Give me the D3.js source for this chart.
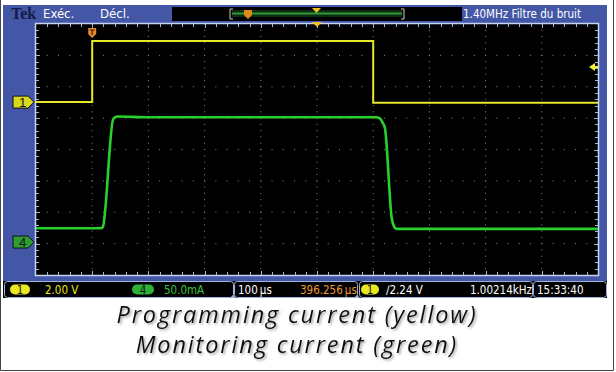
<!DOCTYPE html>
<html>
<head>
<meta charset="utf-8">
<script src="https://cdn.jsdelivr.net/npm/d3@7"></script>
<style>
  body { margin: 0; background: #fff; }
  svg { display: block; }
  .hdr { font-family: "Liberation Sans Narrow", "DejaVu Sans Condensed", sans-serif; font-stretch: condensed; font-size: 13px; }
  .stat { font-family: "Liberation Sans Narrow", "DejaVu Sans Condensed", sans-serif; font-stretch: condensed; font-size: 11.5px; }
  .caption { font-family: "Open Sans", Lato, sans-serif; font-style: italic; font-size: 23.5px; fill: #111; }
</style>
</head>
<body>
<svg id="scope"></svg>
<script>
// timebase and channel settings
const timePerDiv = 100;      // µs
const timeStart = -100;      // µs at left graticule edge (trigger at 1st division)
const ch1VoltsPerDiv = 2.0;
const ch4AmpsPerDiv = 50.0;  // mA
const ch1Position = 1.51;    // divisions above centre
const ch4Position = -2.95;
const triggerLevel = 2.24;   // V

// yellow: programming current (channel 1), volts
const yellowTime = [-100, 0, 0, 500, 500, 900];
const yellowVolts = [0, 0, 3.89, 3.89, -0.04, -0.04];

// green: monitoring current (channel 4), mA
const greenTime = [-100, 16, 19, 37, 41, 45, 100, 300, 505, 512, 517, 521, 533, 537, 541, 600, 900];
const greenMilliamps = [22, 22, 24, 195, 199, 200, 199, 199, 199, 197, 190, 181, 38, 25, 21, 21, 21];

const captionLines = ["Programming current (yellow)", "Monitoring current (green)"];

const width = 616, height = 372;
const plot = { left: 36, top: 24, right: 598, bottom: 275 };

const svg = d3.select("#scope").attr("width", width).attr("height", height);

const x = d3.scaleLinear()
  .domain([timeStart, timeStart + 10 * timePerDiv])
  .range([plot.left, plot.right]);
const yDiv = d3.scaleLinear().domain([-4, 4]).range([plot.bottom, plot.top]);
const xDiv = d3.scaleLinear().domain([0, 10]).range([plot.left, plot.right]);

const defs = svg.append("defs");
const shadow = defs.append("filter").attr("id", "shadow")
  .attr("x", -0.05).attr("y", -0.2).attr("width", 1.1).attr("height", 1.5);
shadow.append("feDropShadow").attr("dx", 1.5).attr("dy", 1.5)
  .attr("stdDeviation", 1).attr("flood-color", "#777").attr("flood-opacity", 0.7);

// blue frame
svg.append("rect").attr("x", 3).attr("y", 5).attr("width", 604).attr("height", 278)
  .attr("fill", "#4456a6");

// header
svg.append("text").attr("x", 11).attr("y", 19).text("Tek")
  .attr("font-family", "Liberation Serif, serif").attr("font-weight", "bold")
  .attr("font-size", 16).attr("fill", "#141a44");
svg.append("text").attr("class", "hdr").attr("x", 43).attr("y", 18).text("Exéc.").attr("fill", "#fff");
svg.append("text").attr("class", "hdr").attr("x", 100).attr("y", 18).text("Décl.").attr("fill", "#fff");

// record view bar
svg.append("rect").attr("x", 172).attr("y", 7).attr("width", 290).attr("height", 14).attr("fill", "#000");
svg.append("rect").attr("x", 232).attr("y", 10).attr("width", 170).attr("height", 7).attr("fill", "#0f2a12");
svg.append("line").attr("x1", 232).attr("x2", 402).attr("y1", 13.5).attr("y2", 13.5)
  .attr("stroke", "#2f9a35").attr("stroke-width", 2);
svg.append("path").attr("d", "M233,9 h-3 v10 h3 M401,9 h3 v10 h-3")
  .attr("fill", "none").attr("stroke", "#ccc").attr("stroke-width", 1);
svg.append("path").attr("d", "M244,10 h8 v5 l-4,4 l-4,-4 z").attr("fill", "#e08a1e");
svg.append("path").attr("d", "M312,8 h9 l-4.5,5 z").attr("fill", "#f0c020");
svg.append("text").attr("class", "hdr").attr("x", 463).attr("y", 18)
  .attr("textLength", 118).attr("lengthAdjust", "spacingAndGlyphs")
  .text("1.40MHz  Filtre du bruit").attr("fill", "#fff");

// graticule
svg.append("rect").attr("x", plot.left).attr("y", plot.top)
  .attr("width", plot.right - plot.left).attr("height", plot.bottom - plot.top)
  .attr("fill", "#000");

const grid = svg.append("g").attr("fill", "#8a8a8a");
d3.range(1, 10).forEach(i => {
  d3.range(0, 41).forEach(k => {
    grid.append("rect").attr("x", xDiv(i) - 0.5).attr("y", yDiv(-4 + k / 5) - 0.5)
      .attr("width", 1).attr("height", 1);
  });
});
d3.range(-3, 4).forEach(j => {
  d3.range(0, 51).forEach(k => {
    grid.append("rect").attr("x", xDiv(k / 5) - 0.5).attr("y", yDiv(j) - 0.5)
      .attr("width", 1).attr("height", 1);
  });
});

// border ticks
const ticks = svg.append("g").attr("stroke", "#9fb2dc").attr("stroke-width", 1);
d3.range(1, 50).forEach(k => {
  const xp = Math.round(xDiv(k / 5)) + 0.5;
  const len = k % 5 === 0 ? 4 : 3;
  ticks.append("line").attr("x1", xp).attr("x2", xp).attr("y1", plot.top).attr("y2", plot.top + len);
  ticks.append("line").attr("x1", xp).attr("x2", xp).attr("y1", plot.bottom).attr("y2", plot.bottom - len);
});
d3.range(1, 40).forEach(k => {
  const yp = Math.round(yDiv(-4 + k / 5)) + 0.5;
  const len = k % 5 === 0 ? 4 : 3;
  ticks.append("line").attr("y1", yp).attr("y2", yp).attr("x1", plot.left).attr("x2", plot.left + len);
  ticks.append("line").attr("y1", yp).attr("y2", yp).attr("x1", plot.right).attr("x2", plot.right - len);
});
svg.append("rect").attr("x", plot.left - 0.5).attr("y", plot.top - 0.5)
  .attr("width", plot.right - plot.left + 1).attr("height", plot.bottom - plot.top + 1)
  .attr("fill", "none").attr("stroke", "#c4d4f2").attr("stroke-width", 1.5);

// waveforms
const yCh1 = v => yDiv(ch1Position + v / ch1VoltsPerDiv);
const yCh4 = v => yDiv(ch4Position + v / ch4AmpsPerDiv);

const greenLine = d3.line().x(d => x(d[0])).y(d => yCh4(d[1])).curve(d3.curveMonotoneX);
svg.append("path")
  .attr("d", greenLine(d3.zip(greenTime, greenMilliamps)))
  .attr("fill", "none").attr("stroke", "#27d22c").attr("stroke-width", 2.6);

const yellowLine = d3.line().x(d => x(d[0])).y(d => yCh1(d[1]));
svg.append("path")
  .attr("d", yellowLine(d3.zip(yellowTime, yellowVolts)))
  .attr("fill", "none").attr("stroke", "#e6e62a").attr("stroke-width", 2);

// trigger position marker
const tx = x(0);
svg.append("path").attr("d", `M${tx - 4},${28} h8 v6 l-4,4 l-4,-4 z`).attr("fill", "#e6892a");
svg.append("path").attr("d", `M${tx - 2.5},${30} h5 M${tx},${30} v5`)
  .attr("stroke", "#3a1a00").attr("stroke-width", 1.2);
// horizontal centre marker
svg.append("path").attr("d", `M${xDiv(5) - 5},${plot.top - 2} h10 l-5,5 z`).attr("fill", "#f0c020");

// trigger level arrow
const tly = yCh1(triggerLevel);
svg.append("path").attr("d", `M${plot.right - 9},${tly} l6,-4 v8 z`).attr("fill", "#f2f23a");
svg.append("line").attr("x1", plot.right - 4).attr("x2", plot.right).attr("y1", tly).attr("y2", tly)
  .attr("stroke", "#f2f23a").attr("stroke-width", 2);

// channel ground markers
function channelMarker(yp, fill, label) {
  svg.append("path")
    .attr("d", `M13,${yp - 6} h15 l6,6 l-6,6 h-15 z`)
    .attr("fill", fill).attr("stroke", "#111").attr("stroke-width", 1);
  svg.append("text").attr("x", 19).attr("y", yp + 5).text(label)
    .attr("font-family", "Liberation Sans, sans-serif").attr("font-size", 13).attr("fill", "#111");
}
channelMarker(yCh1(0), "#d8d81e", "1");
channelMarker(yCh4(0), "#2e9e34", "4");

// status bar
svg.append("rect").attr("x", 3).attr("y", 281).attr("width", 604).attr("height", 17).attr("fill", "#000");
const boxes = [[4, 229], [234, 123], [359, 173], [533, 73]];
boxes.forEach(([bx, bw]) => {
  svg.append("rect").attr("x", bx + 0.5).attr("y", 281.5).attr("width", bw).attr("height", 16)
    .attr("rx", 3).attr("fill", "none").attr("stroke", "#9fb2dc").attr("stroke-width", 1);
});
[233, 357].forEach(px => {
  svg.append("path").attr("d", `M${px - 3},${298} l3,-3 l3,3 z`).attr("fill", "#9fb2dc");
});

function pill(cx, w, fill, label) {
  svg.append("rect").attr("x", cx - w / 2).attr("y", 284.5).attr("width", w).attr("height", 10)
    .attr("rx", 5).attr("fill", fill);
  svg.append("text").attr("class", "stat").attr("x", cx).attr("y", 293.5).attr("text-anchor", "middle")
    .text(label).attr("fill", "#111");
}
pill(20, 20, "#e8e820", "1");
pill(143, 22, "#2fb234", "4");
pill(370, 18, "#e8e820", "1");

const status = [
  [45, `${ch1VoltsPerDiv.toFixed(2)} V`, "#e8e820"],
  [164, `${ch4AmpsPerDiv.toFixed(1)}mA`, "#3ac23e"],
  [238, `${timePerDiv}\u202Fµs`, "#fff"],
  [300, "396.256\u202Fµs", "#e89a30"],
  [386, `\u2215${triggerLevel.toFixed(2)} V`, "#fff"],
  [470, "1.00214kHz", "#fff"],
  [537, "15:33:40", "#fff"]
];
status.forEach(([sx, t, c]) => {
  svg.append("text").attr("class", "stat").attr("x", sx).attr("y", 293.5).text(t).attr("fill", c);
});

// caption: spacing nudged so the first line spans the original width
const captions = captionLines.map((t, i) =>
  svg.append("text").attr("class", "caption")
    .attr("x", 297).attr("y", 323 + i * 29.5).attr("text-anchor", "middle")
    .attr("filter", "url(#shadow)").text(t));
const w0 = captions[0].node().getComputedTextLength();
const spacing = (361 - w0) / captionLines[0].length;
captions.forEach(c => c.style("letter-spacing", `${spacing}px`));

// page border
svg.append("path").attr("d", `M0.5,0 V${height - 1.5} H${width - 2.5} V0`)
  .attr("fill", "none").attr("stroke", "#444").attr("stroke-width", 1);
</script>
</body>
</html>
